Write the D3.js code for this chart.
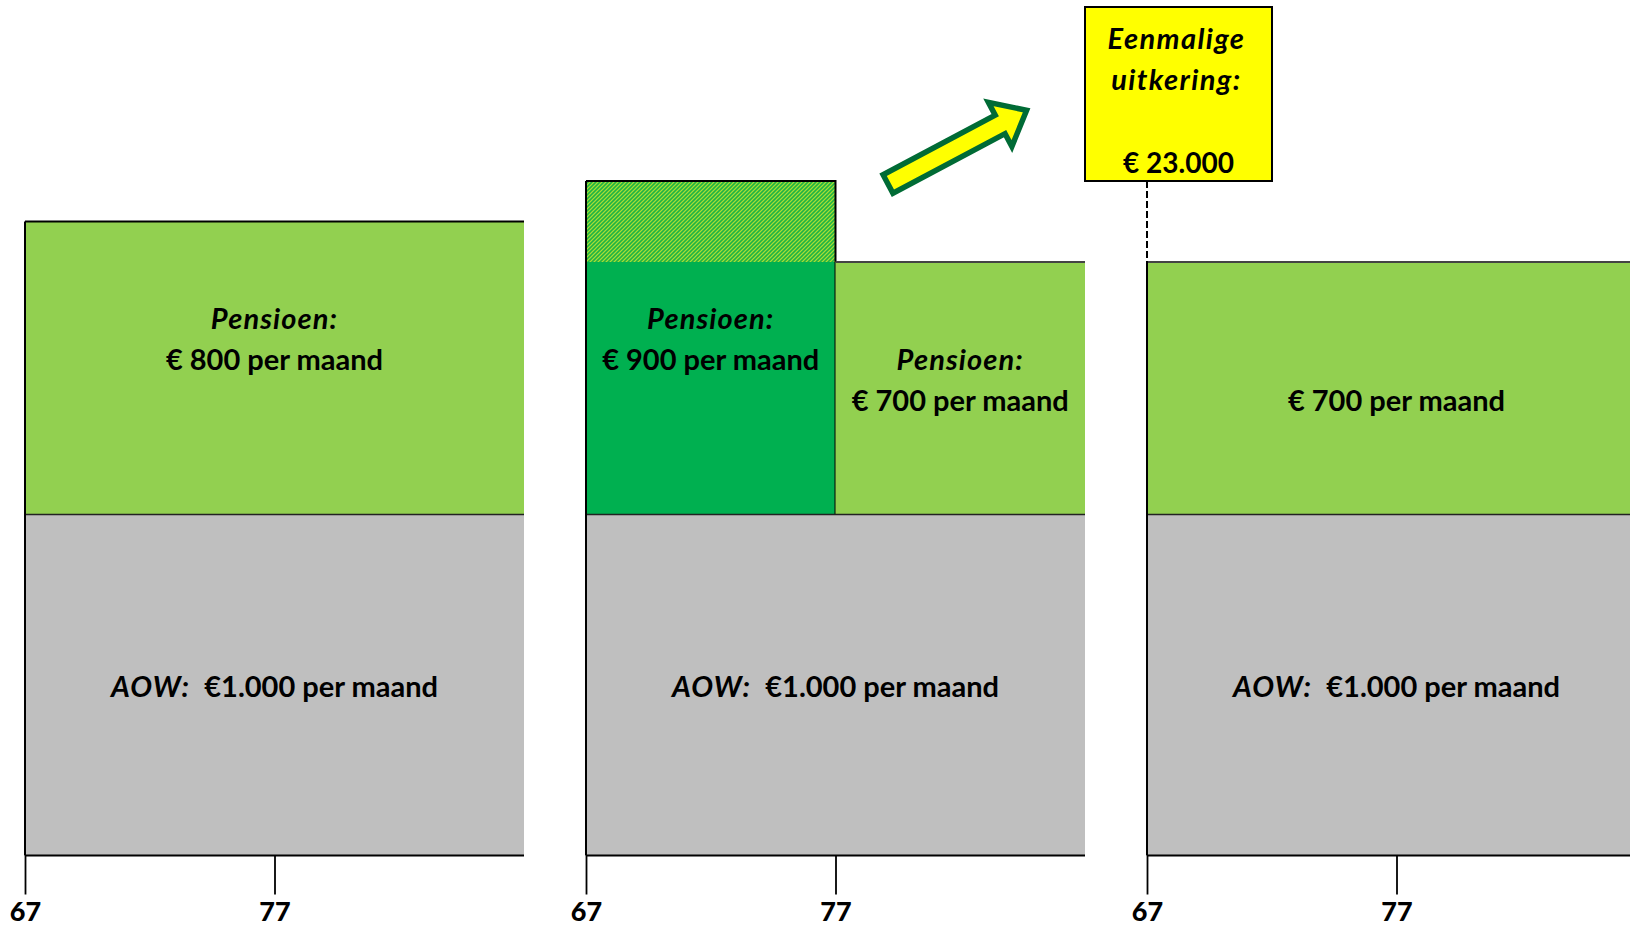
<!DOCTYPE html>
<html>
<head>
<meta charset="utf-8">
<script src="https://cdn.jsdelivr.net/npm/d3@7"></script>
<style>
  html, body { margin: 0; padding: 0; background: #fff; }
  svg { display: block; font-family: Lato, "Open Sans", sans-serif; }
</style>
</head>
<body>
<svg id="chart" width="1630" height="926"></svg>
<script>
// ---------- data ----------
const panelLeftAge = [67, 67, 67];          // start age of each panel
const panelRightAge = [87, 87, 87];         // end age of each panel
const tickAges = [67, 77];                  // tick labels per panel
const aowValue = 1000;                      // AOW per maand
const segPanel = [0, 1, 1, 2];              // pension segments: panel index
const segFrom  = [67, 67, 77, 67];          // from age
const segTo    = [87, 77, 87, 87];          // to age
const segValue = [800, 900, 700, 700];      // pension per maand
const segSolidUpTo = [800, 700, 700, 700];  // solid part; remainder is hatched (hoog deel)
const segTitle = ["Pensioen:", "Pensioen:", "Pensioen:", ""];
const segColor = ["light", "dark", "light", "light"];
const lumpSum = 23000;                      // eenmalige uitkering
const lumpPanel = 2;
const lumpAge = 67;

// ---------- setup ----------
const svg = d3.select("#chart");
const nl = d3.formatLocale({decimal: ",", thousands: ".", grouping: [3], currency: ["€", ""]});
const fmt = nl.format(",");

const panelX0 = [25, 586, 1147];
const panelW = 499;
// schematic (non-proportional) vertical scale, piecewise linear
const y = d3.scaleLinear().domain([0, 1000, 1700, 1900]).range([855.5, 514.5, 262, 181]);
const xs = panelX0.map((x0, i) =>
  d3.scaleLinear().domain([panelLeftAge[i], panelRightAge[i]]).range([x0, x0 + panelW]));

const C = {
  light: "#92D050", dark: "#00B050", gray: "#BFBFBF", yellow: "#FFFF00",
  arrow: "#006B35", line: "#000"
};

// hatch pattern
const defs = svg.append("defs");
const pat = defs.append("pattern").attr("id", "hatch").attr("patternUnits", "userSpaceOnUse")
  .attr("width", 4).attr("height", 4);
pat.append("rect").attr("width", 4).attr("height", 4).attr("fill", "#1EB444");
pat.append("path").attr("d", "M-1,1 l2,-2 M0,4 l4,-4 M3,5 l2,-2")
  .attr("stroke", "#8ED43A").attr("stroke-width", 1.3);
pat.append("path").attr("d", "M0,4 l4,-4")
  .attr("stroke", "#D8F020").attr("stroke-width", 0.5).attr("opacity", 0.7);

// ---------- AOW bands ----------
panelX0.forEach((x0, i) => {
  const x = xs[i];
  svg.append("rect")
    .attr("x", x(panelLeftAge[i])).attr("y", y(aowValue))
    .attr("width", x(panelRightAge[i]) - x(panelLeftAge[i]))
    .attr("height", y(0) - y(aowValue))
    .attr("fill", C.gray);
});

// ---------- pension segments ----------
segValue.forEach((v, k) => {
  const x = xs[segPanel[k]];
  const x1 = x(segFrom[k]), x2 = x(segTo[k]);
  const solidTop = y(aowValue + segSolidUpTo[k]);
  const top = y(aowValue + v);
  svg.append("rect").attr("x", x1).attr("y", solidTop).attr("width", x2 - x1)
    .attr("height", y(aowValue) - solidTop).attr("fill", C[segColor[k]]);
  if (v > segSolidUpTo[k]) {
    svg.append("rect").attr("x", x1).attr("y", top).attr("width", x2 - x1)
      .attr("height", solidTop - top).attr("fill", "url(#hatch)");
    svg.append("path")
      .attr("d", `M${x1},${top} H${x2} V${y(aowValue)}`)
      .attr("fill", "none").attr("stroke", C.line).attr("stroke-width", 2);
  } else {
    svg.append("line").attr("x1", x1).attr("x2", x2).attr("y1", top).attr("y2", top)
      .attr("stroke", k > 0 ? "#444" : C.line)
      .attr("stroke-width", k > 0 ? 2 : 1.8);
  }
});

// boundary line between pension and AOW
panelX0.forEach((x0, i) => {
  const x = xs[i];
  svg.append("line").attr("x1", x(panelLeftAge[i])).attr("x2", x(panelRightAge[i]))
    .attr("y1", y(aowValue)).attr("y2", y(aowValue))
    .attr("stroke", "#222").attr("stroke-width", 1.6);
});

// ---------- axes ----------
panelX0.forEach((x0, i) => {
  const x = xs[i];
  let topVal = aowValue;
  segValue.forEach((v, k) => { if (segPanel[k] === i && segFrom[k] === panelLeftAge[i]) topVal = Math.max(topVal, aowValue + v); });
  svg.append("line").attr("x1", x(panelLeftAge[i])).attr("x2", x(panelLeftAge[i]))
    .attr("y1", y(topVal)).attr("y2", y(0)).attr("stroke", C.line).attr("stroke-width", 2);

  const axis = d3.axisBottom(x).tickValues(tickAges).tickSize(39).tickPadding(7)
    .tickFormat(d3.format("d"));
  const g = svg.append("g").attr("transform", `translate(0,${y(0)})`).call(axis);
  g.select(".domain").attr("d", `M${x(panelLeftAge[i])},0H${x(panelRightAge[i])}`)
    .attr("stroke", C.line).attr("stroke-width", 2);
  g.selectAll(".tick line").attr("stroke", C.line).attr("stroke-width", 1.8);
  g.selectAll(".tick text").attr("fill", "#000").attr("font-family", "Lato")
    .attr("font-weight", 900).attr("font-size", 27).attr("dy", "0.71em");
});

// ---------- labels ----------
const labelFont = 29;
const italicSpacing = 1.1;
segValue.forEach((v, k) => {
  const x = xs[segPanel[k]];
  const cx = (x(segFrom[k]) + x(segTo[k])) / 2;
  const refTop = segColor[k] === "dark" ? y(aowValue + 800) : y(aowValue + v);
  const line2y = refTop + 137;
  const t = svg.append("g").attr("font-size", labelFont).attr("font-weight", 700)
    .attr("text-anchor", "middle");
  if (segTitle[k]) {
    t.append("text").attr("x", cx).attr("y", line2y - 41).attr("dominant-baseline", "central")
      .attr("font-style", "italic").attr("letter-spacing", italicSpacing).text(segTitle[k]);
  }
  t.append("text").attr("x", cx).attr("y", line2y).attr("dominant-baseline", "central")
    .text(`€ ${fmt(v)} per maand`);
});

panelX0.forEach((x0, i) => {
  const x = xs[i];
  const cx = (x(panelLeftAge[i]) + x(panelRightAge[i])) / 2;
  const t = svg.append("text").attr("x", cx).attr("y", (y(0) + y(aowValue)) / 2)
    .attr("text-anchor", "middle").attr("dominant-baseline", "central")
    .attr("font-size", labelFont).attr("font-weight", 700);
  t.append("tspan").attr("font-style", "italic").attr("letter-spacing", italicSpacing).text("AOW:");
  t.append("tspan").text(`\u00a0\u00a0€${fmt(aowValue)} per maand`);
});

// ---------- lump sum box ----------
const lx = xs[lumpPanel](lumpAge);
const box = {x: 1085, y: 7, w: 187, h: 174};
svg.append("line").attr("x1", lx).attr("x2", lx).attr("y1", box.y + box.h).attr("y2", y(aowValue + 700))
  .attr("stroke", "#000").attr("stroke-width", 2).attr("stroke-dasharray", "7,3");
svg.append("rect").attr("x", box.x).attr("y", box.y).attr("width", box.w).attr("height", box.h)
  .attr("fill", C.yellow).attr("stroke", "#000").attr("stroke-width", 2);
const bcx = box.x + box.w / 2 - 2;
const bt = svg.append("g").attr("font-weight", 700).attr("text-anchor", "middle");
bt.append("text").attr("x", bcx).attr("y", 37).attr("dominant-baseline", "central")
  .attr("font-size", 29).attr("letter-spacing", 1.4).attr("font-style", "italic").text("Eenmalige");
bt.append("text").attr("x", bcx).attr("y", 78).attr("dominant-baseline", "central")
  .attr("font-size", 29).attr("letter-spacing", 1.4).attr("font-style", "italic").text("uitkering:");
bt.append("text").attr("x", bcx + 2).attr("y", 162).attr("dominant-baseline", "central")
  .attr("font-size", 28).text(`€ ${fmt(lumpSum)}`);

// ---------- arrow ----------
const L = 157, sw = 10.5, hw = 25, hl = 30;
const arrowPts = [[0, -sw], [L - hl, -sw], [L - hl, -hw], [L, 0], [L - hl, hw], [L - hl, sw], [0, sw]];
svg.append("path")
  .attr("d", d3.line()(arrowPts) + "Z")
  .attr("transform", "translate(888,184) rotate(-28)")
  .attr("fill", C.yellow).attr("stroke", C.arrow).attr("stroke-width", 5.5)
  .attr("stroke-linejoin", "miter");
</script>
</body>
</html>
